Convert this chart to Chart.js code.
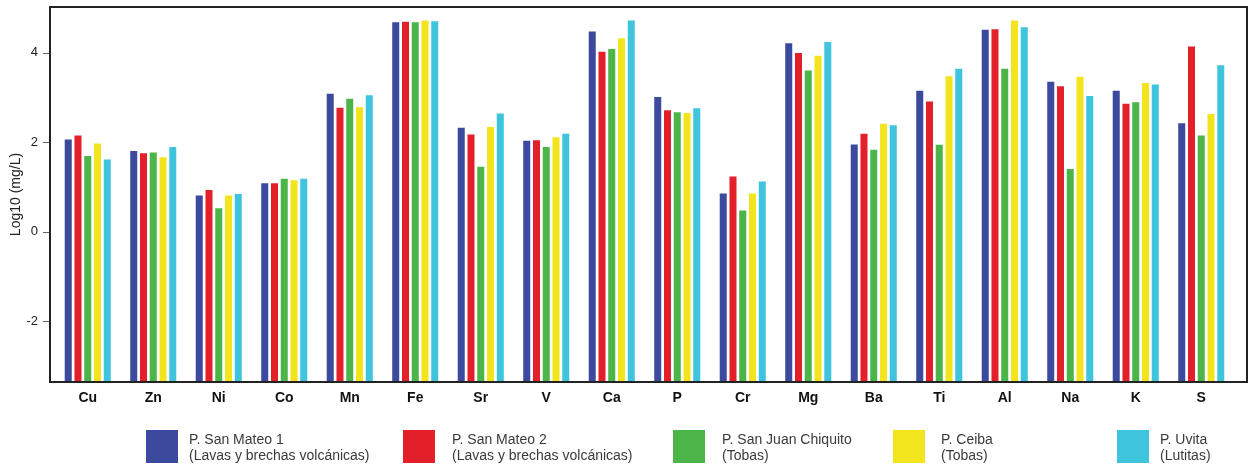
<!DOCTYPE html>
<html>
<head>
<meta charset="utf-8">
<script src="https://cdn.jsdelivr.net/npm/chart.js@4.4.1/dist/chart.umd.min.js"></script>
<style>
  html, body { margin: 0; padding: 0; background: #fff; }
  #wrap { position: relative; width: 1249px; height: 467px; overflow: hidden; }
  #c { position: absolute; left: 0; top: 0; }
  .lg { position: absolute; top: 430px; font-family: "Liberation Sans", Arial, sans-serif; font-size: 14px; line-height: 16px; color: #3a3a3a; }
  .lg .sw { position: absolute; left: 0; top: 0; width: 32px; height: 33px; }
  .lg .tx { position: absolute; top: 1px; white-space: nowrap; }
</style>
</head>
<body>
<div id="wrap">
  <canvas id="c" width="1249" height="467"></canvas>
</div>
<script>
// ---- data ----
const categories = ["Cu","Zn","Ni","Co","Mn","Fe","Sr","V","Ca","P","Cr","Mg","Ba","Ti","Al","Na","K","S"];
const seriesNames = [
  ["P. San Mateo 1", "(Lavas y brechas volcánicas)"],
  ["P. San Mateo 2", "(Lavas y brechas volcánicas)"],
  ["P. San Juan Chiquito", "(Tobas)"],
  ["P. Ceiba", "(Tobas)"],
  ["P. Uvita", "(Lutitas)"]
];
const sanMateo1 = [2.06,1.80,0.81,1.08,3.08,4.68,2.32,2.03,4.47,3.01,0.85,4.21,1.95,3.15,4.51,3.35,3.15,2.42];
const sanMateo2 = [2.15,1.75,0.93,1.08,2.77,4.69,2.17,2.04,4.02,2.71,1.23,3.99,2.19,2.91,4.52,3.25,2.86,4.14];
const sanJuanChiquito = [1.69,1.77,0.52,1.18,2.97,4.68,1.45,1.89,4.08,2.67,0.47,3.60,1.83,1.94,3.64,1.40,2.89,2.15];
const ceiba = [1.97,1.66,0.81,1.15,2.78,4.72,2.34,2.11,4.32,2.65,0.85,3.93,2.41,3.47,4.72,3.46,3.32,2.63];
const uvita = [1.61,1.89,0.84,1.18,3.05,4.70,2.64,2.19,4.72,2.76,1.12,4.24,2.38,3.64,4.57,3.03,3.29,3.72];
const yTickValues = [-2, 0, 2, 4];
const yMin = -3.36, yMax = 5.02;
const yTitle = "Log10 (mg/L)";

// ---- style ----
const colors = ["#3C4A9E", "#E3202A", "#4BB549", "#F2E51E", "#3FC4DE"];
const legendLeft = [146, 403, 673, 893, 1117];
const legendTextOffset = [43, 49, 49, 48, 43];
const FONT = "'Liberation Sans', Arial, sans-serif";

const seriesValues = [sanMateo1, sanMateo2, sanJuanChiquito, ceiba, uvita];

const framePlugin = {
  id: 'frame',
  afterDraw(chart) {
    const { ctx, chartArea } = chart;
    const y = chart.scales.y;
    const left = chartArea.left - 5, right = chartArea.right + 13;
    ctx.save();
    ctx.strokeStyle = '#666';
    ctx.lineWidth = 1;
    yTickValues.forEach(v => {
      const py = Math.round(y.getPixelForValue(v)) + 0.5;
      ctx.beginPath();
      ctx.moveTo(left - 7, py);
      ctx.lineTo(left, py);
      ctx.stroke();
    });
    ctx.strokeStyle = '#222';
    ctx.lineWidth = 2;
    ctx.strokeRect(left, chartArea.top, right - left, chartArea.bottom - chartArea.top);
    ctx.restore();
  }
};

new Chart(document.getElementById('c'), {
  type: 'bar',
  data: {
    labels: categories,
    datasets: seriesValues.map((vals, i) => ({
      label: seriesNames[i].join(' '),
      data: vals,
      backgroundColor: colors[i],
      borderWidth: 0,
      base: yMin,
      categoryPercentage: 0.745,
      barPercentage: 0.72
    }))
  },
  options: {
    responsive: false,
    animation: false,
    layout: { padding: { left: 0, right: 15, top: 7, bottom: 55 } },
    plugins: { legend: { display: false }, tooltip: { enabled: false } },
    scales: {
      x: {
        grid: { display: false, drawTicks: false },
        border: { display: false },
        ticks: { padding: 8, color: '#111', font: { family: FONT, size: 14, weight: 'bold' }, maxRotation: 0, autoSkip: false },
        afterFit(s) { s.height = 30; s.paddingLeft = 0; s.paddingRight = 0; }
      },
      y: {
        min: yMin,
        max: yMax,
        grid: { display: false, drawTicks: false },
        border: { display: false },
        ticks: { padding: 17, color: '#222', font: { family: FONT, size: 13 } },
        afterBuildTicks(s) { s.ticks = yTickValues.map(v => ({ value: v })); },
        afterFit(s) { s.width = 55; s.paddingTop = 0; s.paddingBottom = 0; },
        title: { display: true, text: yTitle, color: '#222', font: { family: FONT, size: 14 }, padding: { top: 8, bottom: 0 } }
      }
    }
  },
  plugins: [framePlugin]
});

// HTML legend
const wrap = document.getElementById('wrap');
seriesNames.forEach((lines, i) => {
  const d = document.createElement('div');
  d.className = 'lg';
  d.style.left = legendLeft[i] + 'px';
  const sw = document.createElement('div');
  sw.className = 'sw';
  sw.style.background = colors[i];
  const tx = document.createElement('div');
  tx.className = 'tx';
  tx.style.left = legendTextOffset[i] + 'px';
  tx.innerHTML = lines.map(l => l.replace(/&/g,'&amp;').replace(/</g,'&lt;')).join('<br>');
  d.appendChild(sw); d.appendChild(tx);
  wrap.appendChild(d);
});
</script>
</body>
</html>
